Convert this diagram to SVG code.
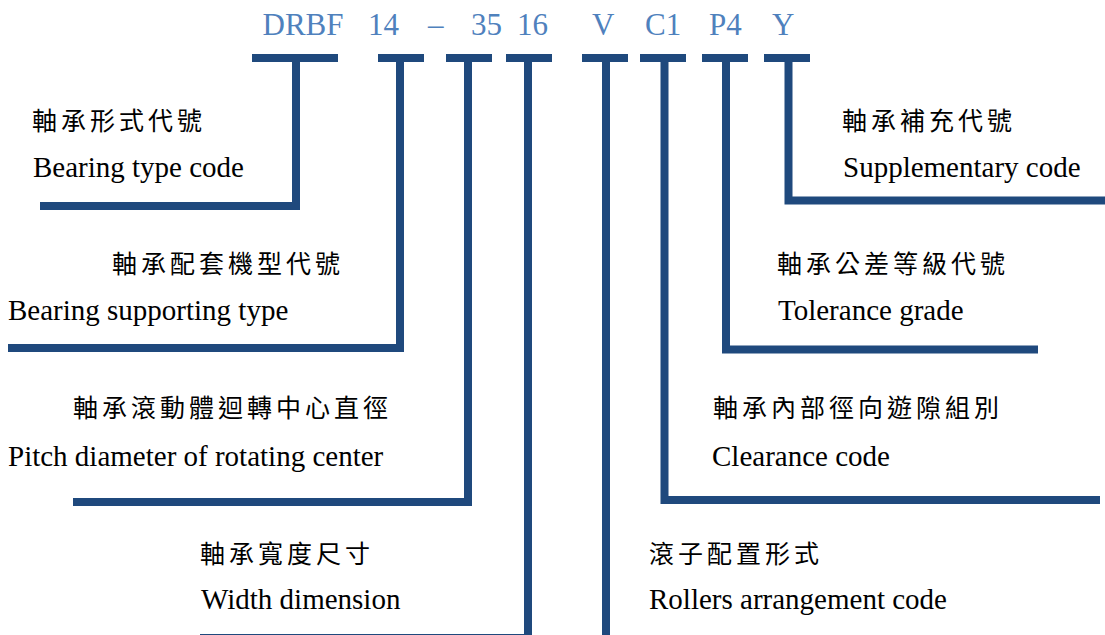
<svg xmlns="http://www.w3.org/2000/svg" width="1105" height="635" viewBox="0 0 1105 635">
<style>
.code{font-family:"Liberation Serif","Times New Roman",serif;font-size:31px;fill:#4F81BD}
.en{font-family:"Liberation Serif","Times New Roman",serif;font-size:29px;fill:#000}
.zh{font-family:"Liberation Serif","Noto Sans CJK TC",serif;font-size:25px;letter-spacing:4px;fill:#000}
.bar{fill:#1F497D}
.ln{fill:none;stroke:#1F497D;stroke-width:8;stroke-linejoin:miter;stroke-linecap:butt}
</style>
<rect width="1105" height="635" fill="#fff"/>
<g id="code">
<text class="code" x="262.5" y="35">DRBF</text>
<text class="code" x="368" y="35">14</text>
<text class="code" x="428" y="35">–</text>
<text class="code" x="471" y="35">35</text>
<text class="code" x="517" y="35">16</text>
<text class="code" x="592" y="35">V</text>
<text class="code" x="645" y="35">C1</text>
<text class="code" x="709" y="35">P4</text>
<text class="code" x="772" y="35">Y</text>
</g>
<g id="connectors">
<rect class="bar" x="252" y="54" width="86" height="8"/>
<rect class="bar" x="378" y="54" width="46" height="8"/>
<rect class="bar" x="446" y="54" width="46" height="8"/>
<rect class="bar" x="506" y="54" width="46" height="8"/>
<rect class="bar" x="582" y="54" width="46" height="8"/>
<rect class="bar" x="640" y="54" width="46" height="8"/>
<rect class="bar" x="702" y="54" width="46" height="8"/>
<rect class="bar" x="764" y="54" width="46" height="8"/>
<path class="ln" d="M296 58 V206 H40"/>
<path class="ln" d="M400 58 V348 H8"/>
<path class="ln" d="M468 58 V502 H73"/>
<path class="ln" d="M528 58 V638 H200"/>
<path class="ln" d="M606 58 V640"/>
<path class="ln" d="M664.5 58 V500 H1100"/>
<path class="ln" d="M726 58 V349.5 H1038"/>
<path class="ln" d="M788.5 58 V200.5 H1110"/>
</g>
<g id="label-type">
<text class="zh" x="32" y="130">軸承形式代號</text>
<text class="en" x="33" y="177">Bearing type code</text>
</g>
<g id="label-supporting">
<text class="zh" x="112" y="273">軸承配套機型代號</text>
<text class="en" x="8" y="320">Bearing supporting type</text>
</g>
<g id="label-pitch">
<text class="zh" x="73" y="417">軸承滾動體迴轉中心直徑</text>
<text class="en" x="8" y="466">Pitch diameter of rotating center</text>
</g>
<g id="label-width">
<text class="zh" x="200" y="563">軸承寬度尺寸</text>
<text class="en" x="201" y="609">Width dimension</text>
</g>
<g id="label-supplementary">
<text class="zh" x="842" y="130">軸承補充代號</text>
<text class="en" x="843" y="177">Supplementary code</text>
</g>
<g id="label-tolerance">
<text class="zh" x="777" y="273">軸承公差等級代號</text>
<text class="en" x="778" y="320">Tolerance grade</text>
</g>
<g id="label-clearance">
<text class="zh" x="713" y="417">軸承內部徑向遊隙組別</text>
<text class="en" x="712" y="466">Clearance code</text>
</g>
<g id="label-rollers">
<text class="zh" x="649" y="563">滾子配置形式</text>
<text class="en" x="649" y="609">Rollers arrangement code</text>
</g>
</svg>
